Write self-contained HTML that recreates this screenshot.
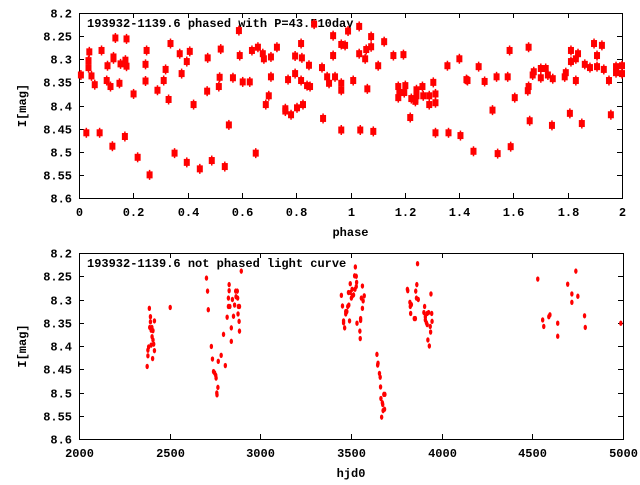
<!DOCTYPE html>
<html><head><meta charset="utf-8"><style>
body{margin:0;background:#fff}
svg text{font-family:"Liberation Mono",monospace;font-weight:bold;font-size:12px;fill:#000}
</style></head><body>
<svg id="c" width="640" height="480" xmlns="http://www.w3.org/2000/svg"></svg>
<script>
// phased data: [phase, mag]
const phasePoints = [[0.007,8.334],[0.027,8.459],[0.035,8.318],[0.035,8.303],[0.038,8.284],[0.046,8.336],[0.058,8.355],[0.076,8.459],[0.083,8.281],[0.102,8.346],[0.105,8.314],[0.116,8.359],[0.123,8.488],[0.127,8.295],[0.127,8.299],[0.134,8.254],[0.149,8.352],[0.153,8.31],[0.169,8.467],[0.171,8.302],[0.175,8.315],[0.175,8.256],[0.201,8.375],[0.216,8.512],[0.245,8.311],[0.245,8.347],[0.249,8.281],[0.26,8.55],[0.289,8.367],[0.319,8.322],[0.312,8.346],[0.33,8.387],[0.337,8.266],[0.352,8.503],[0.371,8.288],[0.378,8.331],[0.397,8.305],[0.397,8.523],[0.408,8.283],[0.422,8.398],[0.445,8.537],[0.472,8.369],[0.474,8.297],[0.489,8.519],[0.515,8.359],[0.518,8.339],[0.522,8.278],[0.537,8.532],[0.552,8.442],[0.567,8.34],[0.589,8.238],[0.592,8.292],[0.603,8.349],[0.629,8.349],[0.637,8.281],[0.651,8.503],[0.659,8.274],[0.677,8.288],[0.681,8.299],[0.688,8.398],[0.699,8.379],[0.707,8.295],[0.707,8.338],[0.729,8.274],[0.76,8.407],[0.76,8.412],[0.77,8.344],[0.781,8.42],[0.796,8.331],[0.796,8.293],[0.803,8.405],[0.818,8.266],[0.818,8.346],[0.821,8.297],[0.825,8.398],[0.84,8.357],[0.847,8.313],[0.851,8.359],[0.866,8.224],[0.895,8.318],[0.899,8.428],[0.914,8.338],[0.921,8.352],[0.936,8.249],[0.936,8.292],[0.943,8.338],[0.966,8.453],[0.966,8.352],[0.966,8.367],[0.966,8.268],[0.98,8.27],[0.991,8.239],[1.01,8.346],
[1.032,8.229],[1.032,8.288],[1.036,8.453],[1.054,8.299],[1.058,8.279],[1.062,8.364],[1.076,8.273],[1.076,8.251],[1.084,8.456],[1.102,8.314],[1.124,8.262],[1.158,8.292],[1.176,8.359],[1.176,8.383],[1.18,8.372],[1.195,8.29],[1.198,8.372],[1.202,8.357],[1.22,8.426],[1.224,8.385],[1.239,8.387],[1.239,8.391],[1.243,8.379],[1.243,8.366],[1.265,8.359],[1.268,8.379],[1.29,8.379],[1.29,8.398],[1.305,8.35],[1.313,8.375],[1.313,8.394],[1.313,8.459],[1.357,8.314],[1.361,8.459],[1.401,8.299],[1.405,8.465],[1.427,8.344],[1.431,8.346],[1.453,8.499],[1.472,8.316],[1.494,8.348],[1.523,8.41],[1.538,8.338],[1.542,8.504],[1.579,8.338],[1.586,8.281],[1.59,8.489],[1.605,8.383],[1.653,8.368],[1.656,8.359],[1.656,8.274],[1.66,8.433],[1.671,8.334],[1.675,8.327],[1.701,8.32],[1.701,8.34],[1.719,8.32],[1.727,8.334],[1.742,8.443],[1.745,8.342],[1.789,8.338],[1.793,8.329],[1.808,8.417],[1.812,8.305],[1.812,8.281],[1.83,8.299],[1.83,8.346],[1.838,8.288],[1.852,8.439],[1.863,8.311],[1.882,8.318],[1.897,8.266],[1.908,8.292],[1.908,8.316],[1.926,8.27],[1.933,8.322],[1.952,8.346],[1.959,8.42],[1.978,8.316],[1.978,8.329],[2.0,8.314],[2.0,8.331]];
// unphased data: [hjd0, mag]
const hjdPoints = [[2376,8.444],[2380,8.409],[2380,8.421],[2384,8.402],[2388,8.319],[2390,8.36],[2394,8.337],[2394,8.348],[2398,8.366],[2398,8.398],[2402,8.36],[2403,8.38],[2408,8.367],[2408,8.387],[2406,8.427],[2412,8.396],[2416,8.346],[2416,8.41],[2503,8.317],[2703,8.254],[2709,8.282],[2713,8.322],[2730,8.401],[2736,8.428],[2742,8.455],[2748,8.458],[2754,8.463],[2756,8.469],[2760,8.501],[2761,8.505],[2766,8.489],[2768,8.433],[2784,8.42],[2797,8.375],[2807,8.442],[2817,8.338],[2824,8.297],[2824,8.315],[2828,8.268],[2828,8.281],[2832,8.315],[2840,8.361],[2840,8.39],[2846,8.3],[2852,8.336],[2858,8.312],[2864,8.282],[2866,8.294],[2873,8.282],[2875,8.297],[2877,8.331],[2879,8.315],[2883,8.347],[2885,8.315],[2885,8.368],[2895,8.239],
[3447,8.291],[3453,8.314],[3459,8.346],[3459,8.35],[3465,8.361],[3471,8.331],[3471,8.326],[3477,8.326],[3482,8.315],[3486,8.285],[3488,8.312],[3492,8.346],[3496,8.285],[3496,8.266],[3502,8.297],[3506,8.278],[3508,8.292],[3514,8.29],[3520,8.249],[3522,8.278],[3524,8.23],[3529,8.25],[3531,8.263],[3529,8.272],[3533,8.351],[3549,8.368],[3551,8.384],[3553,8.341],[3553,8.345],[3557,8.297],[3563,8.271],[3563,8.319],[3567,8.303],[3573,8.292],
[3643,8.418],[3647,8.441],[3649,8.437],[3657,8.459],[3661,8.467],[3663,8.488],[3665,8.513],[3669,8.553],[3673,8.522],[3675,8.526],[3677,8.539],[3681,8.504],[3685,8.536],[3687,8.504],
[3811,8.278],[3813,8.281],[3825,8.306],[3827,8.315],[3829,8.33],[3833,8.311],[3849,8.341],[3855,8.341],[3857,8.282],[3861,8.297],[3863,8.268],[3867,8.223],[3871,8.3],[3902,8.328],[3906,8.315],[3910,8.337],[3910,8.344],[3916,8.35],[3920,8.354],[3920,8.33],[3924,8.387],[3928,8.328],[3932,8.4],[3937,8.358],[3939,8.37],[3941,8.288],[3945,8.33],[3947,8.347],
[4530,8.256],[4557,8.344],[4563,8.358],[4591,8.337],[4597,8.333],[4640,8.351],[4640,8.379],[4695,8.267],[4718,8.288],[4718,8.306],[4740,8.239],[4751,8.293],[4788,8.335],[4792,8.36],[4988,8.351]];
const yTicks = [8.2,8.25,8.3,8.35,8.4,8.45,8.5,8.55,8.6];
const yTickLabels = ["8.2","8.25","8.3","8.35","8.4","8.45","8.5","8.55","8.6"];
const phaseTicks = [0,0.2,0.4,0.6,0.8,1,1.2,1.4,1.6,1.8,2];
const phaseTickLabels = ["0","0.2","0.4","0.6","0.8","1","1.2","1.4","1.6","1.8","2"];
const hjdTicks = [2000,2500,3000,3500,4000,4500,5000];
const hjdTickLabels = ["2000","2500","3000","3500","4000","4500","5000"];

const NS="http://www.w3.org/2000/svg";
const svg=document.getElementById('c');
function mk(tag,attrs,parent){const e=document.createElementNS(NS,tag);for(const k in attrs)e.setAttribute(k,attrs[k]);(parent||svg).appendChild(e);return e;}

function panel(cfg){
  const g=mk('g',{});
  
  
  const sx=v=>cfg.x0+(v-cfg.xmin)/(cfg.xmax-cfg.xmin)*(cfg.x1-cfg.x0);
  const sy=v=>cfg.y0+(v-8.2)/0.4*(cfg.y1-cfg.y0);
  const frame=mk('rect',{x:cfg.x0+0.5,y:cfg.y0+0.5,width:cfg.x1-cfg.x0,height:cfg.y1-cfg.y0,fill:'none',stroke:'#000','stroke-width':1},g);
  
  
  yTicks.forEach((t,i)=>{
    const y=Math.round(sy(t))+0.5;
    mk('line',{x1:cfg.x0,x2:cfg.x0+5,y1:y,y2:y,stroke:'#000'},g);
    mk('line',{x1:cfg.x1-5,x2:cfg.x1,y1:y,y2:y,stroke:'#000'},g);
    const tx=mk('text',{x:cfg.x0-7,y:y+4,'text-anchor':'end'},g);
    tx.textContent=yTickLabels[i];
    
    
  });
  cfg.ticks.forEach((t,i)=>{
    const x=Math.round(sx(t))+0.5;
    mk('line',{x1:x,x2:x,y1:cfg.y1,y2:cfg.y1-5,stroke:'#000'},g);
    mk('line',{x1:x,x2:x,y1:cfg.y0,y2:cfg.y0+5,stroke:'#000'},g);
    const tx=mk('text',{x:x,y:cfg.y1+18,'text-anchor':'middle'},g);
    tx.textContent=cfg.labels[i];
    
    
  });
  const yl=mk('text',{x:0,y:0,'text-anchor':'middle',transform:`translate(26,${(cfg.y0+cfg.y1)/2}) rotate(-90)`},g);
  yl.textContent='I[mag]';
  
  
  const xl=mk('text',{x:(cfg.x0+cfg.x1)/2,y:cfg.y1+38,'text-anchor':'middle'},g);
  xl.textContent=cfg.xlabel;
  
  
  const tl=mk('text',{x:cfg.x0+8,y:cfg.y0+14},g);
  tl.textContent=cfg.title;
  
  
  cfg.data.forEach(d=>{
    const x=sx(d[0]),y=sy(d[1]);
    if(cfg.big){
      const m=mk('rect',{x:x-3,y:y-3.5,width:6,height:7,fill:'#f00'},g);
      
      
      mk('line',{x1:x,x2:x,y1:y-5,y2:y+5,stroke:'#f00','stroke-width':1.5},g);
    }else{
      const m=mk('ellipse',{cx:x,cy:y,rx:1.7,ry:2.7,fill:'#f00'},g);
      
      
    }
  });
}
panel({name:'phased-panel',x0:79,x1:622,y0:13,y1:198,xmin:0,xmax:2,ticks:phaseTicks,labels:phaseTickLabels,xlabel:'phase',title:'193932-1139.6 phased with P=43.510day',data:phasePoints,big:true});
panel({name:'unphased-panel',x0:79,x1:623,y0:253,y1:439,xmin:2000,xmax:5000,ticks:hjdTicks,labels:hjdTickLabels,xlabel:'hjd0',title:'193932-1139.6 not phased light curve',data:hjdPoints,big:false});
</script>
</body></html>
